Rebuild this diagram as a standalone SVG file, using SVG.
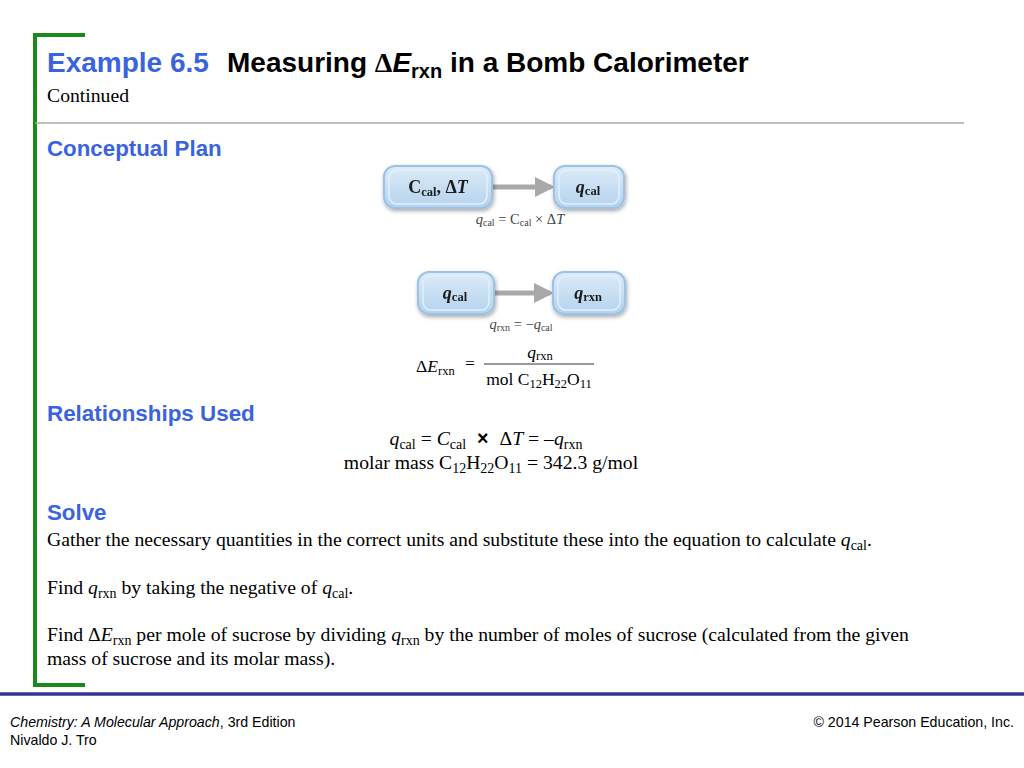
<svg xmlns="http://www.w3.org/2000/svg" width="1024" height="768" viewBox="0 0 1024 768">
<style>
.h{font-family:"Liberation Sans",Arial,sans-serif;font-weight:bold;fill:#3a63e0}
.t{font-family:"Liberation Sans",Arial,sans-serif;font-weight:bold;fill:#000}
.s{font-family:"Liberation Serif","Times New Roman",serif;fill:#000}
.bx{font-family:"Liberation Serif","Times New Roman",serif;font-weight:bold;fill:#1a1a1a;font-size:18px}
.sm{font-family:"Liberation Serif","Times New Roman",serif;fill:#444;font-size:14.5px}
.f{font-family:"Liberation Sans",Arial,sans-serif;fill:#000;font-size:14.2px}
.node rect.o{fill:url(#g1);stroke:#9cc3e6;stroke-width:2}
.node rect.i{fill:none;stroke:#e4f0fa;stroke-width:1.5}
</style>
<defs>
<linearGradient id="g1" x1="0" y1="0" x2="0" y2="1">
<stop offset="0" stop-color="#dcebf8"/>
<stop offset="1" stop-color="#b4d2ee"/>
</linearGradient>
<filter id="sh" x="-20%" y="-30%" width="140%" height="170%">
<feGaussianBlur in="SourceAlpha" stdDeviation="2"/>
<feOffset dx="1" dy="2" result="b"/>
<feComponentTransfer><feFuncA type="linear" slope="0.35"/></feComponentTransfer>
<feMerge><feMergeNode/><feMergeNode in="SourceGraphic"/></feMerge>
</filter>
<marker id="ah" markerWidth="4" markerHeight="4" refX="3.2" refY="2" orient="auto" markerUnits="strokeWidth">
<path d="M0,0 L4,2 L0,4 z" fill="#a9a9a9"/>
</marker>
</defs>
<rect width="1024" height="768" fill="#fff"/>

<!-- frame -->
<path d="M85,35 H35 V685 H85" fill="none" stroke="#1b8a1b" stroke-width="4"/>
<line x1="35" y1="123" x2="964" y2="123" stroke="#aaa" stroke-width="1.5"/>
<line x1="0" y1="694" x2="1024" y2="694" stroke="#333399" stroke-width="3.5"/>

<!-- title -->
<text x="47" y="72" class="h" font-size="28">Example 6.5</text>
<text x="227" y="72" class="t" font-size="28">Measuring <tspan font-family="'Liberation Serif',serif">Δ</tspan><tspan font-style="italic">E</tspan><tspan font-size="20" dy="6">rxn</tspan><tspan dy="-6"> in a Bomb Calorimeter</tspan></text>
<text x="47" y="102" class="s" font-size="19.7">Continued</text>

<text x="47" y="156" class="h" font-size="22.3">Conceptual Plan</text>

<!-- connectors -->
<g id="connectors" stroke="#a9a9a9" stroke-width="5" fill="none">
<line x1="493" y1="187" x2="551" y2="187" marker-end="url(#ah)"/>
<line x1="495" y1="293" x2="550" y2="293" marker-end="url(#ah)"/>
</g>

<g id="n1" class="node" filter="url(#sh)">
<rect class="o" x="384" y="166" width="108" height="42" rx="11"/>
<rect class="i" x="389" y="170" width="98" height="34" rx="8"/>
<text x="438" y="193" text-anchor="middle" class="bx">C<tspan font-size="12.5" dy="3">cal</tspan><tspan dy="-3">, Δ</tspan><tspan font-style="italic">T</tspan></text>
</g>
<g id="n2" class="node" filter="url(#sh)">
<rect class="o" x="554" y="166" width="70" height="42" rx="11"/>
<rect class="i" x="559" y="170" width="60" height="34" rx="8"/>
<text x="588" y="193" text-anchor="middle" class="bx"><tspan font-style="italic">q</tspan><tspan font-size="12.5" dy="2">cal</tspan></text>
</g>
<text x="520" y="224" text-anchor="middle" class="sm"><tspan font-style="italic">q</tspan><tspan font-size="10" dy="2">cal</tspan><tspan dy="-2"> = C</tspan><tspan font-size="10" dy="2">cal</tspan><tspan dy="-2"> × Δ</tspan><tspan font-style="italic">T</tspan></text>

<g id="n3" class="node" filter="url(#sh)">
<rect class="o" x="418" y="272" width="76" height="42" rx="11"/>
<rect class="i" x="423" y="276" width="66" height="34" rx="8"/>
<text x="455" y="299" text-anchor="middle" class="bx"><tspan font-style="italic">q</tspan><tspan font-size="12.5" dy="2">cal</tspan></text>
</g>
<g id="n4" class="node" filter="url(#sh)">
<rect class="o" x="553" y="272" width="72" height="42" rx="11"/>
<rect class="i" x="558" y="276" width="62" height="34" rx="8"/>
<text x="588" y="299" text-anchor="middle" class="bx"><tspan font-style="italic">q</tspan><tspan font-size="12.5" dy="2">rxn</tspan></text>
</g>
<text x="521" y="329" text-anchor="middle" class="sm"><tspan font-style="italic">q</tspan><tspan font-size="10" dy="2">rxn</tspan><tspan dy="-2"> = −</tspan><tspan font-style="italic">q</tspan><tspan font-size="10" dy="2">cal</tspan></text>

<!-- fraction -->
<g id="fraction">
<text x="416" y="372" class="s" font-size="17.5" fill="#222">Δ<tspan font-style="italic">E</tspan><tspan font-size="12.5" dy="3">rxn</tspan></text>
<text x="465" y="369" class="s" font-size="17.5" fill="#222">=</text>
<text x="540" y="358" text-anchor="middle" class="s" font-size="17.5"><tspan font-style="italic">q</tspan><tspan font-size="12.5" dy="2">rxn</tspan></text>
<line x1="484" y1="364" x2="594" y2="364" stroke="#333" stroke-width="1"/>
<text x="539" y="385" text-anchor="middle" class="s" font-size="17.5">mol C<tspan font-size="12.5" dy="3">12</tspan><tspan dy="-3">H</tspan><tspan font-size="12.5" dy="3">22</tspan><tspan dy="-3">O</tspan><tspan font-size="12.5" dy="3">11</tspan></text>
</g>

<text x="47" y="421" class="h" font-size="22.4">Relationships Used</text>
<text x="486" y="445" text-anchor="middle" class="s" font-size="19.7"><tspan font-style="italic">q</tspan><tspan font-size="14" dy="4">cal</tspan><tspan dy="-4"> = </tspan><tspan font-style="italic">C</tspan><tspan font-size="14" dy="4">cal</tspan><tspan dy="-4" font-family="'Liberation Sans',sans-serif" font-weight="bold" xml:space="preserve">  ×  </tspan><tspan>Δ</tspan><tspan font-style="italic">T</tspan><tspan> = –</tspan><tspan font-style="italic">q</tspan><tspan font-size="14" dy="4">rxn</tspan></text>
<text x="491" y="469" text-anchor="middle" class="s" font-size="19.7">molar mass C<tspan font-size="14" dy="4">12</tspan><tspan dy="-4">H</tspan><tspan font-size="14" dy="4">22</tspan><tspan dy="-4">O</tspan><tspan font-size="14" dy="4">11</tspan><tspan dy="-4"> = 342.3 g/mol</tspan></text>

<text x="47" y="520" class="h" font-size="22.3">Solve</text>
<text x="47" y="546" class="s" font-size="19.7">Gather the necessary quantities in the correct units and substitute these into the equation to calculate <tspan font-style="italic">q</tspan><tspan font-size="14" dy="4">cal</tspan><tspan dy="-4">.</tspan></text>
<text x="47" y="594" class="s" font-size="19.7">Find <tspan font-style="italic">q</tspan><tspan font-size="14" dy="4">rxn</tspan><tspan dy="-4"> by taking the negative of </tspan><tspan font-style="italic">q</tspan><tspan font-size="14" dy="4">cal</tspan><tspan dy="-4">.</tspan></text>
<text x="47" y="641" class="s" font-size="19.7">Find Δ<tspan font-style="italic">E</tspan><tspan font-size="14" dy="4">rxn</tspan><tspan dy="-4"> per mole of sucrose by dividing </tspan><tspan font-style="italic">q</tspan><tspan font-size="14" dy="4">rxn</tspan><tspan dy="-4"> by the number of moles of sucrose (calculated from the given</tspan></text>
<text x="47" y="665" class="s" font-size="19.7">mass of sucrose and its molar mass).</text>

<!-- footer -->
<text x="10" y="727" class="f"><tspan font-style="italic">Chemistry: A Molecular Approach</tspan>, 3rd Edition</text>
<text x="10" y="745" class="f">Nivaldo J. Tro</text>
<text x="1014" y="727" text-anchor="end" class="f">© 2014 Pearson Education, Inc.</text>
</svg>
